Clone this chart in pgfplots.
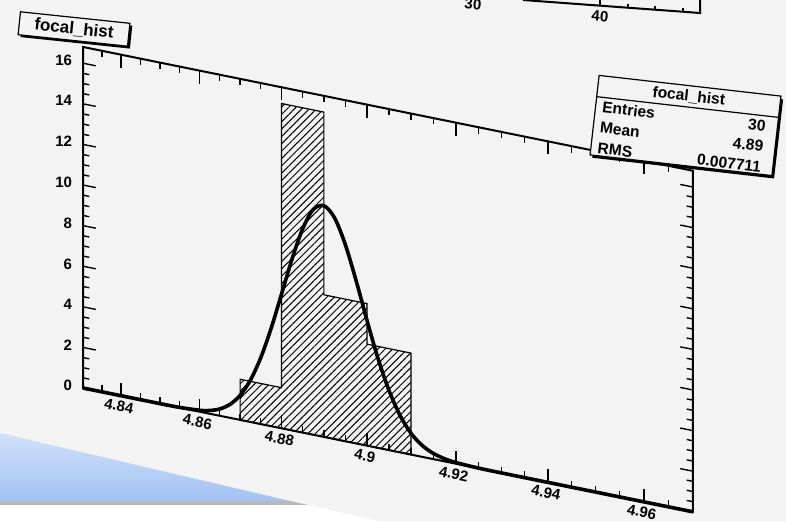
\documentclass[border=0pt]{standalone}
\usepackage{pgfplots}
\pgfplotsset{compat=1.18}
\usepackage{fontspec}
\setmainfont{Liberation Sans}
\usetikzlibrary{patterns.meta,calc,backgrounds,shadows}
\definecolor{pagebg}{RGB}{243,243,243}
\definecolor{slideblueA}{RGB}{208,224,250}
\definecolor{slideblueB}{RGB}{162,194,242}
\begin{document}
\begin{tikzpicture}
\begin{axis}[
  % perspective-like x scale (the picture is a tilted photograph)
  x coord trafo/.code={\pgfmathparse{(#1-4.83)*(3757+4286*(#1-4.83))}},
  x={(0.5pt,-0.1015pt)}, y={(0pt,10.15pt)},
  xmin=4.83, xmax=4.97, ymin=0, ymax=16.8,
  xtick={4.84,4.86,4.88,4.90,4.92,4.94,4.96},
  xticklabels={4.84,4.86,4.88,4.9,4.92,4.94,4.96},
  extra x ticks={4.835,4.845,4.85,4.855,4.865,4.87,4.875,4.885,4.89,4.895,
    4.905,4.91,4.915,4.925,4.93,4.935,4.945,4.95,4.955,4.965},
  extra x tick labels={},
  extra x tick style={major tick length=3.2pt},
  ytick={0,2,4,6,8,10,12,14,16},
  minor y tick num=3,
  major tick length=6.5pt, minor tick length=3.2pt,
  tick style={black, line width=0.7pt},
  axis line style={line width=1pt},
  tick label style={font=\bfseries\fontsize{7.5}{8}\selectfont},
  /pgf/number format/assume math mode=true,
  xticklabel style={rotate=-11.5, anchor=north, yshift=1pt},
  yticklabel style={xshift=-2pt},
  clip=false,
]
% histogram: bins of width 0.01
\addplot[draw=black, line width=0.6pt,
  pattern={Lines[angle=45,distance=2.6pt,line width=0.5pt]}, pattern color=black]
  coordinates {(4.87,0) (4.87,2) (4.88,2) (4.88,16) (4.89,16) (4.89,7)
               (4.90,7) (4.90,5) (4.91,5) (4.91,0)} -- cycle;
% gaussian fit curve
\addplot[black, line width=1.8pt, smooth, tension=0.5] coordinates {
 (4.83,0) (4.84,0) (4.85,0.001) (4.855,0.011) (4.86,0.069) (4.8625,0.158)
 (4.865,0.335) (4.8675,0.66) (4.87,1.21) (4.8725,2.06) (4.875,3.27)
 (4.8775,4.82) (4.88,6.62) (4.8825,8.45) (4.885,10.03) (4.8875,11.09)
 (4.89,11.39) (4.8925,10.9) (4.895,9.69) (4.8975,8.02) (4.9,6.17)
 (4.9025,4.42) (4.905,2.95) (4.9075,1.83) (4.91,1.05) (4.9125,0.565)
 (4.915,0.282) (4.9175,0.131) (4.92,0.056) (4.925,0.009) (4.93,0.001)
 (4.94,0) (4.95,0) (4.96,0) (4.97,0)};
\coordinate (O) at (axis cs:4.83,0);
\end{axis}
\pgfresetboundingbox
\coordinate (BL) at ($(O)+(-41.5pt,-66.5pt)$);
\path[use as bounding box] (BL) rectangle ++(393pt,260.5pt);
\begin{scope}[on background layer]
  \fill[pagebg] (BL) rectangle ++(393pt,260.5pt);
  \shade[top color=slideblueA, bottom color=slideblueB]
    ($(BL)+(0,44pt)$) -- ($(BL)+(145pt,10pt)$) -- ($(BL)+(0,10pt)$) -- cycle;
  \fill[gray!55] ($(BL)+(0,10pt)$) -- ($(BL)+(145pt,10pt)$) -- ($(BL)+(154pt,8pt)$) -- ($(BL)+(0,8pt)$) -- cycle;
  \fill[white] ($(BL)+(0,8pt)$) -- ($(BL)+(154pt,8pt)$) -- ($(BL)+(190pt,0pt)$) -- (BL) -- cycle;
  % edge of the neighbouring plot at the top of the photograph
  \draw[line width=1pt] ($(BL)+(261.5pt,260.5pt)$) -- ($(BL)+(350pt,254pt)$) -- ($(BL)+(350pt,260.5pt)$);
  \draw[line width=0.7pt] ($(BL)+(300pt,257.7pt)$) -- ++(0,3pt)
    ($(BL)+(314pt,256.7pt)$) -- ++(0,2pt)
    ($(BL)+(327.5pt,255.7pt)$) -- ++(0,2pt)
    ($(BL)+(341.5pt,254.7pt)$) -- ++(0,2pt);
  \node[font=\bfseries\fontsize{7.5}{8}\selectfont, rotate=-5, inner sep=0pt] at ($(BL)+(300pt,252.5pt)$) {40};
  \node[font=\bfseries\fontsize{7.5}{8}\selectfont, rotate=-5, inner sep=0pt] at ($(BL)+(236.5pt,258.5pt)$) {30};
\end{scope}
% title box
\node[draw=black, line width=0.6pt, fill=pagebg, rotate=-6,
  minimum width=55pt, minimum height=11.5pt, inner sep=1.5pt,
  drop shadow={opacity=1, fill=black, shadow xshift=1.2pt, shadow yshift=-1.2pt},
  font=\bfseries\fontsize{8.5}{10}\selectfont]
  at ($(BL)+(37pt,246pt)$) {focal\_hist};
% statistics box
\begin{scope}[shift={($(BL)+(342.75pt,197.75pt)$)}, rotate=-6.5]
  \fill[black] (-44.5pt,-21.3pt) rectangle (47pt,18.5pt);
  \filldraw[fill=pagebg, draw=black, line width=0.6pt] (-45.75pt,-20pt) rectangle (45.75pt,20pt);
  \draw[line width=0.6pt] (-45.75pt,9.3pt) -- (45.75pt,9.3pt);
  \begin{scope}[every node/.style={transform shape, inner sep=0pt, font=\bfseries\fontsize{7.8}{9}\selectfont}]
    \node at (0pt,14.6pt) {focal\_hist};
    \node[anchor=west] at (-42.5pt,4.4pt) {Entries};
    \node[anchor=west] at (-42.5pt,-5.9pt) {Mean};
    \node[anchor=west] at (-42.5pt,-16.2pt) {RMS};
    \node[anchor=east] at (40pt,4.4pt) {30};
    \node[anchor=east] at (40pt,-5.9pt) {4.89};
    \node[anchor=east] at (40pt,-16.2pt) {0.007711};
  \end{scope}
\end{scope}
\end{tikzpicture}
\end{document}
